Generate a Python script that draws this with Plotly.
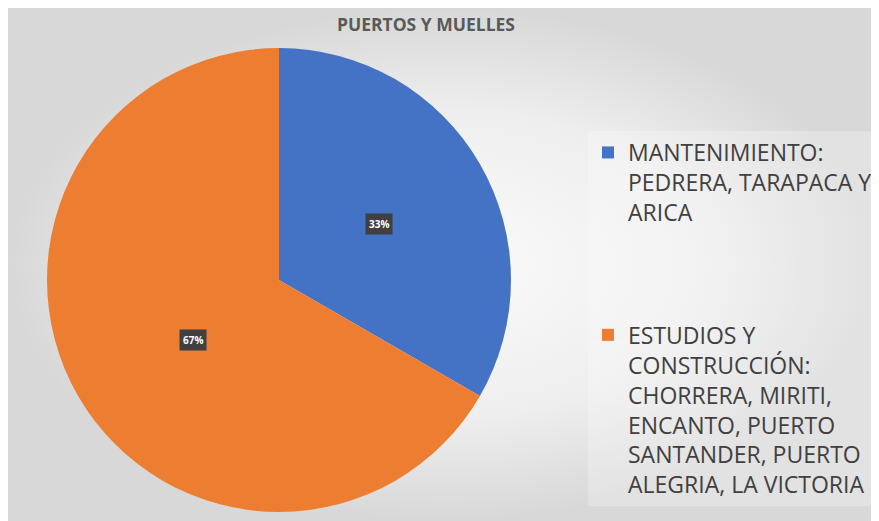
import math
import plotly.graph_objects as go

# Data
title = "PUERTOS Y MUELLES"
labels = [
    "MANTENIMIENTO:<br>PEDRERA, TARAPACA Y<br>ARICA<br> <br> <br> ",
    "ESTUDIOS Y<br>CONSTRUCCIÓN:<br>CHORRERA, MIRITI,<br>ENCANTO, PUERTO<br>SANTANDER, PUERTO<br>ALEGRIA, LA VICTORIA",
]
values = [3, 6]
colors = ["#4472C4", "#ED7D31"]

# Geometry (pixels, relative to the figure; page body adds 8px offset)
W, H = 871, 513
cx, cy, r = 271, 272, 232

dom_x = [(cx - r) / W, (cx + r) / W]
dom_y = [1 - (cy + r) / H, 1 - (cy - r) / H]

fig = go.Figure()

# soft radial background
fig.add_trace(go.Scatter(
    x=[0, 1, 1, 0, 0], y=[0, 0, 1, 1, 0],
    mode="lines", line=dict(width=0),
    fill="toself",
    fillgradient=dict(type="radial",
                      colorscale=[[0, "#fbfbfb"], [0.6, "#eeeeee"], [1, "#d8d8d8"]]),
    hoverinfo="skip", showlegend=False,
))

fig.add_trace(go.Pie(
    labels=labels, values=values,
    marker=dict(colors=colors, line=dict(width=0)),
    sort=False, direction="clockwise", rotation=0,
    textinfo="none", hoverinfo="skip",
    domain=dict(x=dom_x, y=dom_y),
))

# percentage labels in dark boxes at half radius
total = sum(values)
annotations = []
acc = 0
for v in values:
    mid = 2 * math.pi * (acc + v / 2) / total
    acc += v
    px_ = cx + 0.5 * r * math.sin(mid)
    py_ = cy - 0.5 * r * math.cos(mid) + 2
    annotations.append(dict(
        x=px_ / W, y=1 - py_ / H, xref="paper", yref="paper",
        text=f"<b>{round(100 * v / total)}%</b>", showarrow=False,
        font=dict(family="Open Sans", size=10, color="white"),
        bgcolor="#404040", borderpad=3,
    ))

fig.update_layout(
    width=W, height=H,
    margin=dict(l=0, t=0, r=0, b=0),
    paper_bgcolor="white", plot_bgcolor="#e8e8e8",
    xaxis=dict(visible=False, range=[0, 1], fixedrange=True),
    yaxis=dict(visible=False, range=[0, 1], fixedrange=True),
    title=dict(text=f"<b>{title}</b>", x=418 / W, xanchor="center",
               y=1 - 17 / H, yanchor="middle",
               font=dict(family="Open Sans", size=17.5, color="#595959")),
    legend=dict(x=580 / W, y=1 - 123 / H, xanchor="left", yanchor="top",
                valign="top", bgcolor="rgba(255,255,255,0.25)", itemwidth=30,
                font=dict(family="Open Sans", size=23, color="#404040")),
    annotations=annotations,
    hovermode=False,
)

fig.write_html("out.html")
